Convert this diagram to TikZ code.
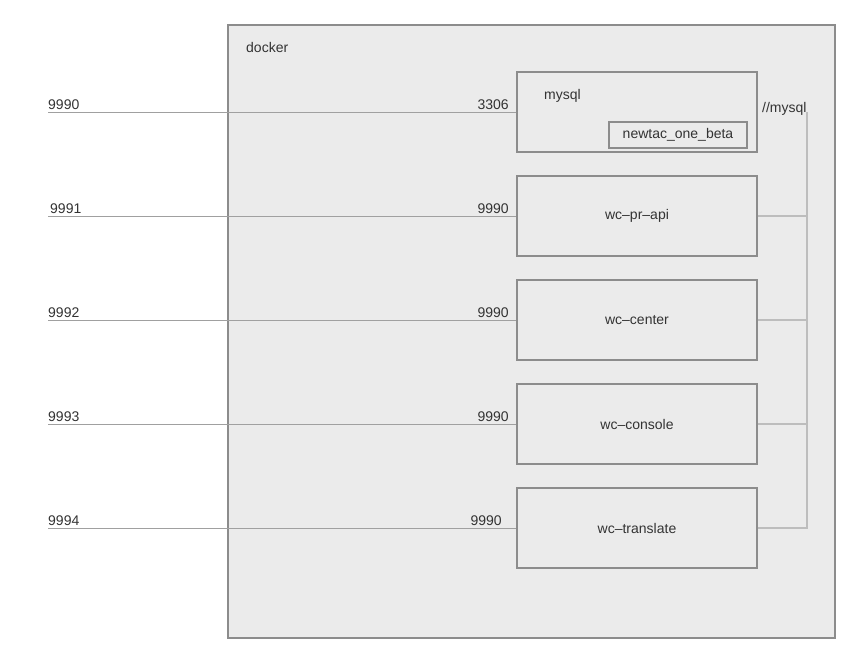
\documentclass[tikz,border=0pt]{standalone}
\usepackage{fontspec}
\setmainfont{Liberation Sans}
\usepackage{xcolor}
\usetikzlibrary{positioning}
\definecolor{dockerfill}{HTML}{EBEBEB}
\definecolor{boxline}{HTML}{8C8C8C}
\definecolor{wireline}{HTML}{A0A0A0}
\definecolor{busline}{HTML}{BDBDBD}
\definecolor{labeltext}{HTML}{333333}

\begin{document}
\begin{tikzpicture}[x=1pt, y=-1pt,
	every node/.style={font=\fontsize{14}{16}\selectfont, text=labeltext},
	service/.style={draw=boxline, line width=1.5pt, minimum width=240pt, minimum height=80pt, inner sep=0pt},
	portlabel/.style={anchor=south east, inner xsep=0pt, inner ysep=2pt},
	hostlabel/.style={anchor=south west, inner xsep=0pt, inner ysep=2pt},
	wire/.style={draw=wireline, line width=1pt},
	bus/.style={draw=busline, line width=1.3pt}]
	\useasboundingbox (0,0) rectangle (860,664);
	
	% Docker host
	\node[draw=boxline, fill=dockerfill, line width=2pt, minimum width=607pt, minimum height=613pt, inner sep=0pt] (docker) at (531.5,331.5) {};
	\node[anchor=base west, inner sep=0pt] (dockerlabel) at (246,52) {docker};
	
	% Containers
	\node[service] (mysql) at (637,112) {};
	\node[anchor=west, inner sep=0pt] (mysqllabel) at (544,96) {mysql};
	\node[draw=boxline, line width=1.5pt, minimum width=138pt, minimum height=26pt, inner sep=0pt] (db) at (678,135) {newtac\_one\_beta};
	\node[service] (api) at (637,216) {wc--pr--api};
	\node[service] (center) at (637,320) {wc--center};
	\node[service] (console) at (637,424) {wc--console};
	\node[service] (translate) at (637,528) {wc--translate};
	
	% Host ports
	\coordinate (h0) at (48,112);
	\coordinate (h1) at (48,216);
	\coordinate (h2) at (48,320);
	\coordinate (h3) at (48,424);
	\coordinate (h4) at (48,528);
	\node[hostlabel] at (h0) {9990};
	\node[hostlabel, xshift=2pt] at (h1) {9991};
	\node[hostlabel] at (h2) {9992};
	\node[hostlabel] at (h3) {9993};
	\node[hostlabel] at (h4) {9994};
	
	% Port mappings
	\draw[wire] (h0) -- (mysql.west) node[portlabel, xshift=-7pt] {3306};
	\draw[wire] (h1) -- (api.west) node[portlabel, xshift=-7pt] {9990};
	\draw[wire] (h2) -- (center.west) node[portlabel, xshift=-7pt] {9990};
	\draw[wire] (h3) -- (console.west) node[portlabel, xshift=-7pt] {9990};
	\draw[wire] (h4) -- (translate.west) node[portlabel, xshift=-14pt] {9990};
	
	% Link to mysql
	\node[anchor=base west, inner sep=0pt] (link) at (762,112) {//mysql};
	\coordinate (bustop) at (807,112);
	\draw[bus] (bustop) |- (translate.east);
	\draw[bus] (api.east) -- (api.east -| bustop);
	\draw[bus] (center.east) -- (center.east -| bustop);
	\draw[bus] (console.east) -- (console.east -| bustop);
\end{tikzpicture}
\end{document}
